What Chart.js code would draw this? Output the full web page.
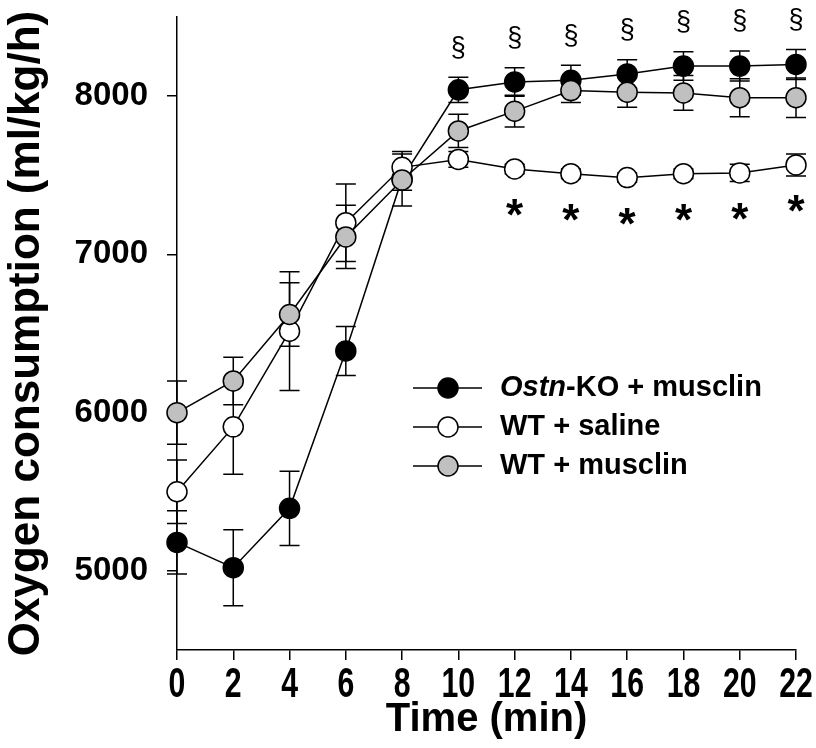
<!DOCTYPE html>
<html>
<head>
<meta charset="utf-8">
<script src="https://cdn.jsdelivr.net/npm/chart.js@4.4.1/dist/chart.umd.min.js"></script>
<style>
  html, body { margin: 0; padding: 0; background: #fff; }
  #wrap { width: 816px; height: 748px; }
</style>
</head>
<body>
<div id="wrap"><canvas id="oxygenChart"></canvas></div>
<script>
// time points (min)
const times = [0, 2, 4, 6, 8, 10, 12, 14, 16, 18, 20, 22]
const xTicks = [0, 2, 4, 6, 8, 10, 12, 14, 16, 18, 20, 22]
const yTicks = [5000, 6000, 7000, 8000]

// Ostn-KO + musclin
const ostnKO = [5180, 5020, 5395, 6390, 7480, 8040, 8090, 8100, 8140, 8190, 8190, 8200]
const ostnKOErr = [200, 240, 235, 155, 75, 80, 90, 95, 90, 90, 95, 95]
// WT + saline
const wtSaline = [5500, 5910, 6515, 7200, 7550, 7600, 7540, 7510, 7485, 7510, 7515, 7565]
const wtSalineErr = [200, 300, 375, 245, 100, 50, 30, 30, 30, 30, 55, 70]
// WT + musclin
const wtMusclin = [6000, 6200, 6620, 7110, 7470, 7780, 7905, 8035, 8025, 8020, 7990, 7990]
const wtMusclinErr = [200, 150, 200, 200, 165, 105, 100, 75, 95, 110, 120, 125]

// significance marks
const sectionTimes = [10, 12, 14, 16, 18, 20, 22]
const starTimes = [12, 14, 16, 18, 20, 22]

const legendNames = [['Ostn', '-KO + musclin'], ['', 'WT + saline'], ['', 'WT + musclin']]

const FONT = "'Liberation Sans', Arial, sans-serif"

function points(ys) {
    return times.map((t, i) => ({ x: t, y: ys[i] }))
}

function series(label, ys, errs, fill, order) {
    return {
        label: label,
        data: points(ys),
        err: errs,
        borderColor: '#000',
        borderWidth: 1.5,
        backgroundColor: fill,
        pointBackgroundColor: fill,
        pointBorderColor: '#000',
        pointBorderWidth: 1.5,
        pointRadius: 10,
        pointHoverRadius: 10,
        tension: 0,
        clip: false,
        order: order
    }
}

const errorBars = {
    id: 'errorBars',
    beforeDatasetsDraw(chart) {
        const ctx = chart.ctx
        const xs = chart.scales.x
        const ys = chart.scales.y
        ctx.save()
        ctx.strokeStyle = '#000'
        ctx.lineWidth = 1.5
        chart.data.datasets.forEach(ds => {
            ds.data.forEach((p, i) => {
                const px = xs.getPixelForValue(p.x)
                const top = ys.getPixelForValue(p.y + ds.err[i])
                const bot = ys.getPixelForValue(p.y - ds.err[i])
                ctx.beginPath()
                ctx.moveTo(px, top); ctx.lineTo(px, bot)
                ctx.moveTo(px - 10, top); ctx.lineTo(px + 10, top)
                ctx.moveTo(px - 10, bot); ctx.lineTo(px + 10, bot)
                ctx.stroke()
            })
        })
        ctx.restore()
    }
}

const marks = {
    id: 'marks',
    afterDatasetsDraw(chart) {
        const ctx = chart.ctx
        const xs = chart.scales.x
        const ys = chart.scales.y
        ctx.save()
        ctx.fillStyle = '#000'
        ctx.textAlign = 'center'
        ctx.font = '27px ' + FONT
        ctx.textBaseline = 'middle'
        sectionTimes.forEach(t => {
            const i = times.indexOf(t)
            const px = xs.getPixelForValue(t)
            const py = ys.getPixelForValue(ostnKO[i] + ostnKOErr[i]) - 29
            ctx.fillText('§', px, py)
        })
        ctx.font = 'bold 44px ' + FONT
        ctx.textBaseline = 'alphabetic'
        starTimes.forEach(t => {
            const i = times.indexOf(t)
            const px = xs.getPixelForValue(t)
            const py = ys.getPixelForValue(wtSaline[i]) + 37
            ctx.fillText('*', px, py + 24)
        })

        // condensed x tick labels
        ctx.font = 'bold 42px ' + FONT
        ctx.textBaseline = 'middle'
        xTicks.forEach(v => {
            const px = xs.getPixelForValue(v)
            ctx.save()
            ctx.translate(px, chart.chartArea.bottom + 35)
            ctx.scale(0.72, 1)
            ctx.fillText(String(v), 0, 0)
            ctx.restore()
        })

        // legend
        const area = chart.chartArea
        const lx = area.left + 236
        const fills = ['#000', '#fff', '#c0c0c0']
        legendNames.forEach((name, k) => {
            const ly = area.top + 371 + k * 39
            ctx.strokeStyle = '#000'
            ctx.lineWidth = 1.5
            ctx.beginPath()
            ctx.moveTo(lx, ly); ctx.lineTo(lx + 69, ly)
            ctx.stroke()
            ctx.beginPath()
            ctx.arc(lx + 35, ly, 10, 0, Math.PI * 2)
            ctx.fillStyle = fills[k]
            ctx.fill()
            ctx.stroke()
            ctx.fillStyle = '#000'
            ctx.textAlign = 'left'
            ctx.textBaseline = 'middle'
            let tx = lx + 87
            if (name[0]) {
                ctx.font = 'italic bold 29px ' + FONT
                ctx.fillText(name[0], tx, ly)
                tx += ctx.measureText(name[0]).width
            }
            ctx.font = 'bold 29px ' + FONT
            ctx.fillText(name[1], tx, ly)
        })
        ctx.restore()
    }
}

const ctx = document.getElementById('oxygenChart').getContext('2d')
const oxygenChart = new Chart(ctx, {
    type: 'line',
    data: {
        datasets: [
            series('Ostn-KO + musclin', ostnKO, ostnKOErr, '#000', 3),
            series('WT + saline', wtSaline, wtSalineErr, '#fff', 2),
            series('WT + musclin', wtMusclin, wtMusclinErr, '#c0c0c0', 1)
        ]
    },
    options: {
        responsive: true,
        maintainAspectRatio: false,
        animation: false,
        events: [],
        layout: {
            padding: { top: 17, right: 20, left: 0, bottom: 0 }
        },
        plugins: {
            legend: { display: false },
            tooltip: { enabled: false }
        },
        scales: {
            x: {
                type: 'linear',
                min: 0,
                max: 22,
                afterBuildTicks: scale => {
                    scale.ticks = xTicks.map(v => ({ value: v }))
                },
                afterFit: scale => {
                    scale.height = 98
                    scale.paddingLeft = 0
                    scale.paddingRight = 0
                },
                border: { display: true, color: '#000', width: 1.5 },
                grid: {
                    drawOnChartArea: false,
                    drawTicks: true,
                    tickLength: 10,
                    color: '#000',
                    lineWidth: 1.5
                },
                ticks: {
                    display: false,
                    autoSkip: false,
                    maxRotation: 0
                },
                title: {
                    display: true,
                    text: 'Time (min)',
                    color: '#000',
                    padding: { top: 0, bottom: 4 },
                    font: { family: FONT, size: 40, weight: 'bold', lineHeight: 1.2 }
                }
            },
            y: {
                type: 'linear',
                min: 4500,
                max: 8500,
                afterBuildTicks: scale => {
                    scale.ticks = yTicks.map(v => ({ value: v }))
                },
                afterFit: scale => {
                    scale.width = 177
                    scale.paddingTop = 0
                    scale.paddingBottom = 0
                },
                border: { display: true, color: '#000', width: 1.5 },
                grid: {
                    drawOnChartArea: false,
                    drawTicks: true,
                    tickLength: 10,
                    color: '#000',
                    lineWidth: 1.5
                },
                ticks: {
                    padding: 19,
                    color: '#000',
                    callback: v => String(v),
                    font: { family: FONT, size: 33, weight: 'bold' }
                },
                title: {
                    display: true,
                    text: 'Oxygen consumption (ml/kg/h)',
                    color: '#000',
                    padding: 0,
                    font: { family: FONT, size: 44, weight: 'bold', lineHeight: 1.2 }
                }
            }
        }
    },
    plugins: [errorBars, marks]
})
</script>
</body>
</html>
